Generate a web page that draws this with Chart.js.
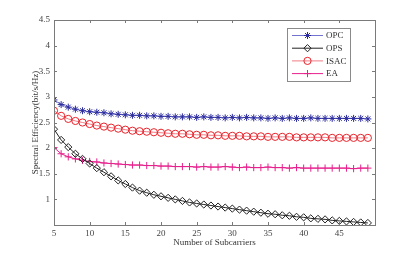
<!DOCTYPE html>
<html><head><meta charset="utf-8">
<script src="https://cdn.jsdelivr.net/npm/chart.js@4/dist/chart.umd.min.js"></script>
<style>html,body{margin:0;padding:0;background:#fff}</style>
</head><body>
<canvas id="c" width="415" height="255"></canvas>
<script>
const subcarriers = [5,6,7,8,9,10,11,12,13,14,15,16,17,18,19,20,21,22,23,24,25,26,27,28,29,30,31,32,33,34,35,36,37,38,39,40,41,42,43,44,45,46,47,48,49];
const opc  = [2.94,2.85,2.80,2.76,2.73,2.71,2.70,2.69,2.67,2.66,2.65,2.64,2.64,2.63,2.63,2.62,2.62,2.61,2.61,2.61,2.60,2.61,2.60,2.60,2.59,2.60,2.59,2.60,2.59,2.59,2.58,2.59,2.58,2.59,2.58,2.58,2.59,2.58,2.58,2.58,2.58,2.58,2.58,2.58,2.57];
const ops  = [2.37,2.16,2.02,1.89,1.79,1.70,1.61,1.53,1.45,1.37,1.30,1.23,1.17,1.13,1.09,1.06,1.03,1.00,0.97,0.94,0.92,0.90,0.88,0.86,0.84,0.82,0.80,0.78,0.76,0.74,0.72,0.71,0.69,0.68,0.66,0.65,0.63,0.62,0.61,0.59,0.58,0.57,0.56,0.55,0.54];
const isac = [2.73,2.63,2.57,2.53,2.50,2.47,2.44,2.42,2.40,2.38,2.36,2.34,2.33,2.32,2.31,2.30,2.29,2.28,2.28,2.27,2.26,2.26,2.25,2.25,2.24,2.24,2.24,2.23,2.23,2.23,2.22,2.22,2.22,2.22,2.21,2.21,2.21,2.21,2.21,2.20,2.20,2.20,2.20,2.20,2.20];
const ea   = [2.01,1.89,1.83,1.79,1.76,1.74,1.73,1.71,1.70,1.69,1.68,1.67,1.67,1.66,1.66,1.65,1.65,1.64,1.64,1.64,1.63,1.64,1.63,1.63,1.64,1.63,1.62,1.63,1.62,1.62,1.63,1.62,1.62,1.61,1.62,1.61,1.61,1.61,1.61,1.61,1.61,1.61,1.60,1.61,1.61];
const seriesNames = ['OPC','OPS','ISAC','EA'];
const xTicks = [5,10,15,20,25,30,35,40,45];
const yTicks = [1,1.5,2,2.5,3,3.5,4,4.5];

const FONT = 'Liberation Serif, Times New Roman, serif';
const toPts = v => v.map((y,i)=>({x:subcarriers[i], y}));

const styles = [
  {line:'rgba(90,90,200,0.85)', mark:'#2b2b9e', shape:'star', r:3.5},
  {line:'#222', mark:'#222', shape:'rectRot', r:3.6},
  {line:'rgba(240,110,120,0.9)', mark:'#e8242c', shape:'circle', r:3.6},
  {line:'#e6208c', mark:'#e6208c', shape:'cross', r:3.6}
];
const values = [opc, ops, isac, ea];

const datasets = values.map((v,i)=>({
  label: seriesNames[i],
  data: toPts(v),
  borderColor: styles[i].line,
  borderWidth: 1,
  pointStyle: styles[i].shape,
  pointRadius: styles[i].r,
  pointBorderColor: styles[i].mark,
  pointBackgroundColor: 'rgba(0,0,0,0)',
  pointBorderWidth: 1,
  tension: 0,
  fill: false
}));

function drawMarker(ctx, shape, x, y, r) {
  ctx.beginPath();
  if (shape === 'star') {
    ctx.moveTo(x-r,y); ctx.lineTo(x+r,y);
    ctx.moveTo(x,y-r); ctx.lineTo(x,y+r);
    const d = r*0.707;
    ctx.moveTo(x-d,y-d); ctx.lineTo(x+d,y+d);
    ctx.moveTo(x-d,y+d); ctx.lineTo(x+d,y-d);
  } else if (shape === 'rectRot') {
    ctx.moveTo(x,y-r); ctx.lineTo(x+r,y); ctx.lineTo(x,y+r); ctx.lineTo(x-r,y); ctx.closePath();
  } else if (shape === 'circle') {
    ctx.arc(x,y,r,0,Math.PI*2);
  } else if (shape === 'cross') {
    ctx.moveTo(x-r,y); ctx.lineTo(x+r,y);
    ctx.moveTo(x,y-r); ctx.lineTo(x,y+r);
  }
  ctx.stroke();
}

const framePlugin = {
  id: 'frame',
  afterDraw(chart) {
    const {ctx, chartArea: a, scales} = chart;
    ctx.save();
    ctx.strokeStyle = '#7a7a7a';
    ctx.lineWidth = 1;
    ctx.strokeRect(Math.round(a.left)+0.5, Math.round(a.top)+0.5, Math.round(a.right-a.left), Math.round(a.bottom-a.top));
    ctx.beginPath();
    const tl = 3;
    xTicks.forEach(t=>{
      const px = Math.round(scales.x.getPixelForValue(t))+0.5;
      ctx.moveTo(px, a.bottom); ctx.lineTo(px, a.bottom-tl);
      ctx.moveTo(px, a.top); ctx.lineTo(px, a.top+tl);
    });
    yTicks.forEach(t=>{
      const py = Math.round(scales.y.getPixelForValue(t))+0.5;
      ctx.moveTo(a.left, py); ctx.lineTo(a.left+tl, py);
      ctx.moveTo(a.right, py); ctx.lineTo(a.right-tl, py);
    });
    ctx.stroke();

    // legend
    const bx = 287.5, by = 28.5, bw = 63, bh = 53;
    ctx.fillStyle = '#fff';
    ctx.fillRect(bx, by, bw, bh);
    ctx.strokeStyle = '#8a8a8a';
    ctx.strokeRect(bx, by, bw, bh);
    ctx.font = '9px ' + FONT;
    ctx.textBaseline = 'middle';
    ctx.textAlign = 'left';
    chart.data.datasets.forEach((ds,i)=>{
      const y = 35.5 + i*12.7;
      ctx.strokeStyle = styles[i].line;
      ctx.beginPath(); ctx.moveTo(292, y); ctx.lineTo(323, y); ctx.stroke();
      ctx.strokeStyle = styles[i].mark;
      drawMarker(ctx, styles[i].shape, 307.5, y, styles[i].r);
      ctx.fillStyle = '#333';
      ctx.fillText(ds.label, 326, y+0.5);
    });
    ctx.restore();
  }
};

new Chart(document.getElementById('c'), {
  type: 'line',
  data: { datasets },
  options: {
    responsive: false,
    animation: false,
    devicePixelRatio: 1,
    layout: { padding: { left: 0, right: 40, top: 20, bottom: 0 } },
    plugins: { legend: { display: false }, tooltip: { enabled: false } },
    scales: {
      x: {
        type: 'linear', min: 5, max: 50,
        afterBuildTicks: s => { s.ticks = xTicks.map(v=>({value:v})); },
        afterFit: s => { s.height = 30; },
        grid: { display: false, drawTicks: false },
        border: { display: false },
        ticks: { padding: 3, color: '#444', font: { family: FONT, size: 9 }, maxRotation: 0, autoSkip: false, callback: v => String(v) },
        title: { display: true, text: 'Number of Subcarriers', color: '#333', font: { family: FONT, size: 9 }, padding: { top: 0, bottom: 7 } }
      },
      y: {
        type: 'linear', min: 0.5, max: 4.5,
        afterBuildTicks: s => { s.ticks = yTicks.map(v=>({value:v})); },
        afterFit: s => { s.width = 54; },
        grid: { display: false, drawTicks: false },
        border: { display: false },
        ticks: { padding: 4, color: '#444', font: { family: FONT, size: 9 }, autoSkip: false, callback: v => String(v) },
        title: { display: true, text: 'Spectral Efficiency(bit/s/Hz)', color: '#333', font: { family: FONT, size: 9 }, padding: { top: 30, bottom: 0 } }
      }
    }
  },
  plugins: [framePlugin]
});
</script>
</body></html>
